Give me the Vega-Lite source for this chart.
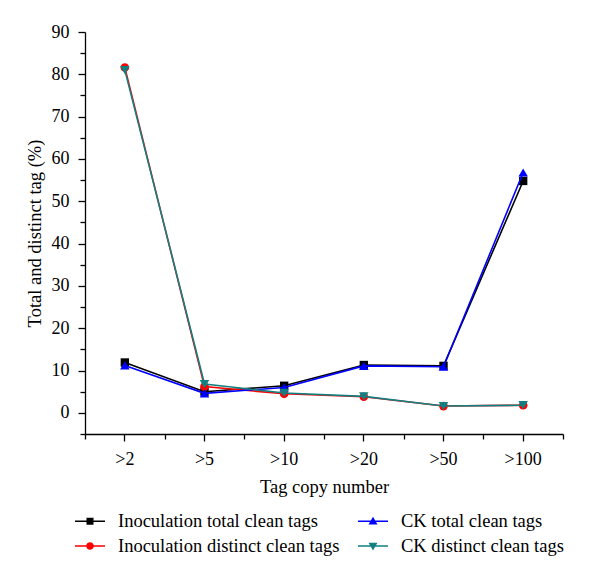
{
  "$schema": "https://vega.github.io/schema/vega-lite/v6.json",
  "width": 478,
  "height": 402,
  "autosize": "none",
  "padding": {"left": 85, "top": 32, "right": 37, "bottom": 146},
  "config": {
    "view": {"stroke": null},
    "font": "Liberation Serif",
    "axis": {
      "labelFont": "Liberation Serif",
      "titleFont": "Liberation Serif",
      "labelColor": "#000",
      "titleColor": "#000",
      "domainColor": "#000",
      "tickColor": "#000",
      "labelFontSize": 18,
      "titleFontSize": 18.5,
      "titleFontWeight": "normal",
      "grid": false,
      "domainWidth": 1.3,
      "tickWidth": 1.3
    },
    "legend": {
      "labelFont": "Liberation Serif",
      "labelFontSize": 18.5,
      "labelColor": "#000",
      "title": null,
      "orient": "none",
      "legendX": -5,
      "legendY": 479,
      "columns": 2,
      "direction": "horizontal",
      "padding": 0,
      "symbolSize": 400,
      "symbolOpacity": 1,
      "symbolStrokeWidth": 0,
      "labelOffset": 18,
      "labelLimit": 400,
      "rowPadding": 5,
      "columnPadding": 18
    }
  },
  "data": {
    "values": [
      {"copy": ">2", "series": "Inoculation total clean tags", "value": 11.9},
      {"copy": ">5", "series": "Inoculation total clean tags", "value": 5.0},
      {"copy": ">10", "series": "Inoculation total clean tags", "value": 6.4},
      {"copy": ">20", "series": "Inoculation total clean tags", "value": 11.3},
      {"copy": ">50", "series": "Inoculation total clean tags", "value": 11.1},
      {"copy": ">100", "series": "Inoculation total clean tags", "value": 54.8},
      {"copy": ">2", "series": "Inoculation distinct clean tags", "value": 81.6},
      {"copy": ">5", "series": "Inoculation distinct clean tags", "value": 6.2},
      {"copy": ">10", "series": "Inoculation distinct clean tags", "value": 4.5},
      {"copy": ">20", "series": "Inoculation distinct clean tags", "value": 3.8},
      {"copy": ">50", "series": "Inoculation distinct clean tags", "value": 1.6},
      {"copy": ">100", "series": "Inoculation distinct clean tags", "value": 1.8},
      {"copy": ">2", "series": "CK total clean tags", "value": 11.2},
      {"copy": ">5", "series": "CK total clean tags", "value": 4.6},
      {"copy": ">10", "series": "CK total clean tags", "value": 6.0},
      {"copy": ">20", "series": "CK total clean tags", "value": 11.1},
      {"copy": ">50", "series": "CK total clean tags", "value": 10.9},
      {"copy": ">100", "series": "CK total clean tags", "value": 56.8},
      {"copy": ">2", "series": "CK distinct clean tags", "value": 81.0},
      {"copy": ">5", "series": "CK distinct clean tags", "value": 6.8},
      {"copy": ">10", "series": "CK distinct clean tags", "value": 4.7},
      {"copy": ">20", "series": "CK distinct clean tags", "value": 3.9},
      {"copy": ">50", "series": "CK distinct clean tags", "value": 1.6},
      {"copy": ">100", "series": "CK distinct clean tags", "value": 1.8}
    ]
  },
  "layer": [
    {
      "encoding": {
        "x": {
          "field": "copy", "type": "ordinal",
          "sort": [">2", ">5", ">10", ">20", ">50", ">100"],
          "scale": {"type": "band", "paddingInner": 0, "paddingOuter": 0},
          "axis": {"title": "Tag copy number", "labelAngle": 0, "tickSize": 7, "labelPadding": 9, "titlePadding": 9}
        },
        "y": {
          "field": "value", "type": "quantitative",
          "scale": {"domain": [-5, 90], "nice": false, "zero": false},
          "axis": {
            "title": "Total and distinct tag (%)",
            "values": [-5, 0, 5, 10, 15, 20, 25, 30, 35, 40, 45, 50, 55, 60, 65, 70, 75, 80, 85, 90],
            "tickCount": 40,
            "labelExpr": "(datum.value % 10 == 0 && datum.value >= 0) ? datum.label : ''",
            "labelOverlap": false,
            "tickSize": {"expr": "datum.value % 10 == 0 ? 7 : 5"},
            "labelPadding": 9,
            "titlePadding": 7
          }
        },
        "color": {
          "field": "series", "type": "nominal",
          "scale": {
            "domain": ["Inoculation total clean tags", "CK total clean tags", "Inoculation distinct clean tags", "CK distinct clean tags"],
            "range": ["#000000", "#0000ff", "#ff0000", "#128080"]
          }
        }
      },
      "layer": [
        {
          "transform": [{"filter": "datum.series == 'Inoculation total clean tags'"}],
          "mark": {"type": "line", "strokeWidth": 1.6, "point": {"shape": "square", "size": 70, "filled": true}}
        },
        {
          "transform": [{"filter": "datum.series == 'Inoculation distinct clean tags'"}],
          "mark": {"type": "line", "strokeWidth": 1.6, "point": {"shape": "circle", "size": 75, "filled": true}}
        },
        {
          "transform": [{"filter": "datum.series == 'CK total clean tags'"}],
          "mark": {"type": "line", "strokeWidth": 1.6, "point": {"shape": "triangle-up", "size": 90, "filled": true}}
        },
        {
          "transform": [{"filter": "datum.series == 'CK distinct clean tags'"}],
          "mark": {"type": "line", "strokeWidth": 1.6, "point": {"shape": "triangle-down", "size": 90, "filled": true}}
        }
      ]
    },
    {
      "mark": {"type": "point", "filled": true, "opacity": 0},
      "encoding": {
        "x": {
          "field": "copy", "type": "ordinal",
          "sort": [">2", ">5", ">10", ">20", ">50", ">100"],
          "scale": {"type": "band", "paddingInner": 0, "paddingOuter": 0},
          "axis": {"title": null, "labels": false, "domain": false, "tickBand": "extent", "tickSize": 5, "orient": "bottom"}
        },
        "y": {"field": "value", "type": "quantitative"},
        "color": {
          "field": "series", "type": "nominal",
          "scale": {
            "domain": ["Inoculation total clean tags", "CK total clean tags", "Inoculation distinct clean tags", "CK distinct clean tags"],
            "range": ["#000000", "#0000ff", "#ff0000", "#128080"]
          }
        },
        "shape": {
          "field": "series", "type": "nominal",
          "scale": {
            "domain": ["Inoculation total clean tags", "CK total clean tags", "Inoculation distinct clean tags", "CK distinct clean tags"],
            "range": [
              "M-1.5,-0.08H1.5V0.08H-1.5Z M-0.35,-0.35H0.35V0.35H-0.35Z",
              "M-1.5,-0.08H1.5V0.08H-1.5Z M0,-0.45L0.45,0.32H-0.45Z",
              "M-1.5,-0.08H1.5V0.08H-1.5Z M-0.38,0A0.38,0.38 0 1,1 0.38,0A0.38,0.38 0 1,1 -0.38,0Z",
              "M-1.5,-0.08H1.5V0.08H-1.5Z M0,0.45L-0.45,-0.32H0.45Z"
            ]
          }
        }
      }
    }
  ],
  "resolve": {"scale": {"x": "independent"}, "axis": {"x": "independent"}}
}
